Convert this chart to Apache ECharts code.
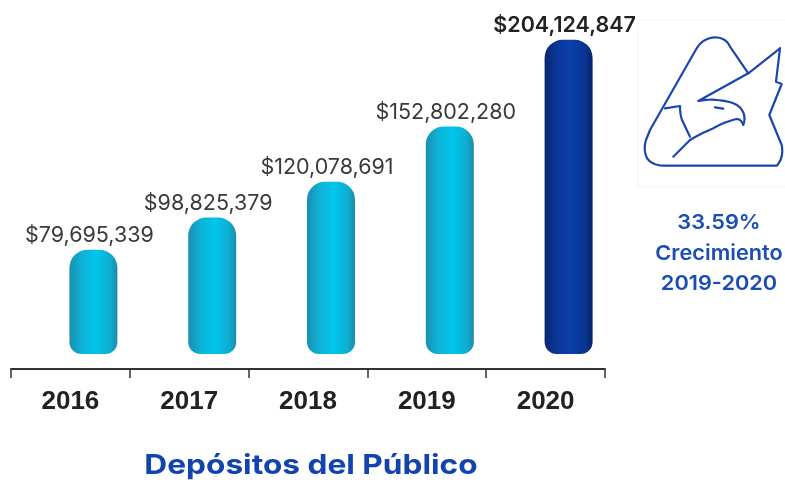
<!DOCTYPE html>
<html>
<head>
<meta charset="utf-8">
<script src="https://cdn.jsdelivr.net/npm/echarts/dist/echarts.min.js"></script>
<style>
html,body{margin:0;padding:0;background:#fff;}
#chart{width:785px;height:483px;}
</style>
</head>
<body>
<div id="chart"></div>
<script>
var categories = ['2016', '2017', '2018', '2019', '2020'];
var deposits = [79695339, 98825379, 120078691, 152802280, 204124847];
var growthLines = ['33.59%', 'Crecimiento', '2019-2020'];
var chartTitle = 'Depósitos del Público';

var cyanGrad = {type:'linear', x:0, y:0, x2:1, y2:0, colorStops:[
  {offset:0, color:'#1a8fb0'}, {offset:0.25, color:'#10b0d6'}, {offset:0.55, color:'#00c6ec'},
  {offset:0.85, color:'#0eadd0'}, {offset:1, color:'#1a8cab'}]};
var blueGrad = {type:'linear', x:0, y:0, x2:1, y2:0, colorStops:[
  {offset:0, color:'#08286f'}, {offset:0.3, color:'#0b389c'}, {offset:0.55, color:'#0a40ab'},
  {offset:0.85, color:'#0a3490'}, {offset:1, color:'#07246a'}]};

function fmt(v){ return '$' + v.toLocaleString('en-US'); }

// logo drawing (decorative): simple M/L/Q path strings turned into polyline points
function pathToPoints(d){
  var tokens = d.match(/[MLQ]|-?\d+(\.\d+)?/g), pts = [], i = 0, cmd, cur = [0,0];
  while (i < tokens.length){
    if (/[MLQ]/.test(tokens[i])) { cmd = tokens[i++]; }
    if (cmd === 'M' || cmd === 'L'){
      cur = [+tokens[i], +tokens[i+1]]; i += 2; pts.push(cur);
    } else if (cmd === 'Q'){
      var c = [+tokens[i], +tokens[i+1]], e = [+tokens[i+2], +tokens[i+3]]; i += 4;
      for (var t = 1; t <= 8; t++){
        var s = t/8, a = (1-s)*(1-s), b = 2*(1-s)*s, q = s*s;
        pts.push([a*cur[0]+b*c[0]+q*e[0], a*cur[1]+b*c[1]+q*e[1]]);
      }
      cur = e;
    }
  }
  return pts;
}
var logoOutline = 'M780,48.3 L776,81.7 L781.7,84 L769.3,115 L781.7,145 Q784,158 776.7,165.7 L666.7,165.7 Q652,166 647,158 Q643,150 646,140 L650,130 L696.7,48.3 Q703,38 715,37.3 Q726,37.5 730,46.7 L748.3,73.3';
var logoWing = 'M780,48.3 L748.3,73.3 L698.3,101 Q710,99 716.7,100 Q728,101 733.3,103.3 Q740,106 742.5,111 Q746,117 743.3,125 Q741,119 736.7,119 Q724,122 713.3,128.3 Q700,134 690,140 L673.3,156.7';
var logoFeather = 'M665,108.3 L680,106 Q680,114 682,120 L690,136.7';
var logoEye = 'M715,107.3 L723.3,108.7';
var logoStyle = {fill:'none', stroke:'#1a46b0', lineWidth:2.2, lineJoin:'round', lineCap:'round'};

var chart = echarts.init(document.getElementById('chart'), null, {renderer:'canvas'});

var option = {
  animation:false,
  grid:[
    {left:11, width:594, top:0, bottom:114},
    {left:34, width:594, top:0, bottom:129}
  ],
  xAxis:[
    {type:'category', gridIndex:0, data:categories, boundaryGap:true,
     axisLine:{show:true, onZero:false, lineStyle:{color:'#333', width:2}},
     axisTick:{show:true, length:9, alignWithLabel:false, lineStyle:{color:'#333', width:1.5}},
     axisLabel:{margin:20, color:'#222', fontSize:26, fontWeight:'bold', fontFamily:'Liberation Sans'}},
    {type:'category', gridIndex:1, data:categories, show:false}
  ],
  yAxis:[
    {type:'value', gridIndex:0, show:false, min:0, max:1},
    {type:'value', gridIndex:1, show:false, min:18000000, max:227700000}
  ],
  series:[{
    type:'bar', xAxisIndex:1, yAxisIndex:1, data:deposits, barWidth:48,
    itemStyle:{
      borderRadius:[18,18,12,12],
      color:function(p){ return p.dataIndex === deposits.length-1 ? blueGrad : cyanGrad; }
    },
    label:{
      show:true, position:'top', distance:3, offset:[-4,0],
      fontFamily:'Inter', fontSize:21.5, color:'#3a3a3a',
      formatter:function(p){
        return p.dataIndex === deposits.length-1 ? '{b|' + fmt(p.value) + '}' : fmt(p.value);
      },
      rich:{b:{fontFamily:'Inter', fontSize:21.5, fontWeight:600, color:'#222'}}
    }
  }],
  graphic:[
    {type:'rect', shape:{x:638, y:20, width:160, height:167}, style:{fill:'none', stroke:'#f3f3f3', lineWidth:1}, silent:true},
    {type:'polyline', shape:{points:pathToPoints(logoOutline)}, style:logoStyle},
    {type:'polyline', shape:{points:pathToPoints(logoWing)}, style:logoStyle},
    {type:'polyline', shape:{points:pathToPoints(logoFeather)}, style:logoStyle},
    {type:'polyline', shape:{points:pathToPoints(logoEye)}, style:logoStyle},
    {type:'text', x:719, y:223, scaleX:1.06, style:{text:growthLines[0], fill:'#1a4db5', font:'600 20.5px Inter', textAlign:'center', textVerticalAlign:'middle'}},
    {type:'text', x:719, y:254, scaleX:1.06, style:{text:growthLines[1], fill:'#1a4db5', font:'600 20.5px Inter', textAlign:'center', textVerticalAlign:'middle'}},
    {type:'text', x:719, y:284, scaleX:1.06, style:{text:growthLines[2], fill:'#1a4db5', font:'600 20.5px Inter', textAlign:'center', textVerticalAlign:'middle'}},
    {type:'text', x:311, y:466, scaleX:1.15, style:{text:chartTitle, fill:'#1244b0', font:'bold 27.5px Inter', textAlign:'center', textVerticalAlign:'middle'}}
  ]
};
chart.setOption(option);
</script>
</body>
</html>
